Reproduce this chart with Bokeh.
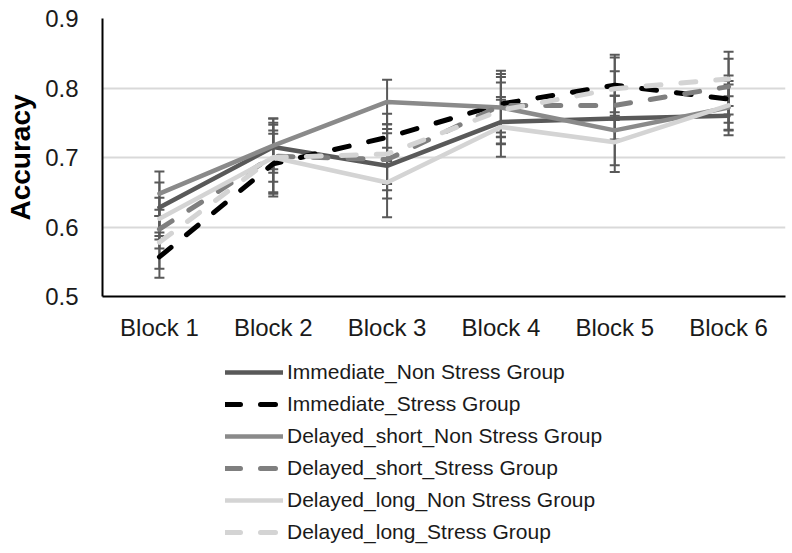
from bokeh.plotting import figure
from bokeh.layouts import column
from bokeh.models import ColumnDataSource, Whisker, Legend, LegendItem, TeeHead, FactorRange
from bokeh.embed import file_html
from bokeh.resources import INLINE

blocks = ["Block 1", "Block 2", "Block 3", "Block 4", "Block 5", "Block 6"]

series_names = [
    "Immediate_Non Stress Group",
    "Immediate_Stress Group",
    "Delayed_short_Non Stress Group",
    "Delayed_short_Stress Group",
    "Delayed_long_Non Stress Group",
    "Delayed_long_Stress Group",
]

immediate_non = [0.628, 0.715, 0.688, 0.751, 0.756, 0.760]
immediate_stress = [0.557, 0.691, 0.729, 0.777, 0.804, 0.784]
delayed_short_non = [0.648, 0.717, 0.780, 0.772, 0.739, 0.772]
delayed_short_stress = [0.597, 0.702, 0.697, 0.775, 0.775, 0.802]
delayed_long_non = [0.612, 0.700, 0.664, 0.744, 0.722, 0.775]
delayed_long_stress = [0.578, 0.700, 0.705, 0.768, 0.799, 0.813]

err_immediate_non = [0.036, 0.032, 0.047, 0.032, 0.033, 0.028]
err_immediate_stress = [0.030, 0.043, 0.034, 0.048, 0.044, 0.034]
err_delayed_short_non = [0.032, 0.039, 0.032, 0.036, 0.050, 0.033]
err_delayed_short_stress = [0.028, 0.037, 0.044, 0.045, 0.049, 0.040]
err_delayed_long_non = [0.030, 0.050, 0.050, 0.043, 0.043, 0.035]
err_delayed_long_stress = [0.038, 0.056, 0.043, 0.048, 0.045, 0.039]

y_ticks = [0.5, 0.6, 0.7, 0.8, 0.9]

values = [immediate_non, immediate_stress, delayed_short_non,
          delayed_short_stress, delayed_long_non, delayed_long_stress]
errors = [err_immediate_non, err_immediate_stress, err_delayed_short_non,
          err_delayed_short_stress, err_delayed_long_non, err_delayed_long_stress]
colors = ["#595959", "#000000", "#8a8a8a", "#7f7f7f", "#d4d4d4", "#d4d4d4"]
dashes = ["solid", "15 20", "solid", "15 20", "solid", "15 20"]
widths = [4.5, 5, 4.5, 5, 4.5, 5]

FONT = "Liberation Sans"

# ---- main chart ----
p = figure(width=788, height=346, x_range=FactorRange(*blocks, range_padding=0),
           y_range=(0.5, 0.9), output_backend="svg", toolbar_location=None,
           min_border_left=102, min_border_right=3, min_border_top=18,
           min_border_bottom=50)
p.outline_line_color = None
p.background_fill_color = "white"
p.border_fill_color = "white"

p.xgrid.grid_line_color = None
p.ygrid.grid_line_color = "#d9d9d9"
p.ygrid.grid_line_width = 2
p.yaxis.ticker = y_ticks

for ax in (p.xaxis[0], p.yaxis[0]):
    ax.axis_line_color = "black"
    ax.axis_line_width = 2
    ax.major_tick_line_color = None
    ax.minor_tick_line_color = None
    ax.major_tick_out = 0
    ax.major_tick_in = 0
    ax.major_label_text_font = FONT
    ax.major_label_text_font_size = "24px"
    ax.major_label_text_color = "#1a1a1a"

p.xaxis.major_label_standoff = 17
p.yaxis.major_label_standoff = 24
p.yaxis.axis_label = "Accuracy"
p.yaxis.axis_label_text_font = FONT
p.yaxis.axis_label_text_font_size = "28px"
p.yaxis.axis_label_text_font_style = "bold"
p.yaxis.axis_label_text_color = "#000000"
p.yaxis.axis_label_standoff = 6

for vals, col, dash, lw in zip(values, colors, dashes, widths):
    p.line(x=blocks, y=vals, line_color=col, line_width=lw, line_dash=dash,
           line_cap="round", line_join="round")

for vals, errs in zip(values, errors):
    src = ColumnDataSource(dict(x=blocks,
                                upper=[v + e for v, e in zip(vals, errs)],
                                lower=[v - e for v, e in zip(vals, errs)]))
    w = Whisker(base="x", upper="upper", lower="lower", source=src,
                line_color="#595959", line_width=2,
                upper_head=TeeHead(size=10, line_color="#595959", line_width=2),
                lower_head=TeeHead(size=10, line_color="#595959", line_width=2))
    p.add_layout(w)

# ---- legend panel (same series, legend only) ----
p2 = figure(width=788, height=199, x_range=FactorRange(*blocks), y_range=(0, 1),
            output_backend="svg", toolbar_location=None,
            x_axis_location=None, y_axis_location=None,
            min_border_left=0, min_border_right=0, min_border_top=0,
            min_border_bottom=0)
p2.outline_line_color = None
p2.xgrid.grid_line_color = None
p2.ygrid.grid_line_color = None

items = []
for name, vals, col, dash, lw in zip(series_names, values, colors, dashes, widths):
    r = p2.line(x=blocks, y=vals, line_color=col, line_width=lw, line_dash=dash,
                line_cap="round", line_join="round", visible=False)
    items.append(LegendItem(label=name, renderers=[r]))

legend = Legend(items=items, location=(123, 1), orientation="vertical")
legend.label_text_font = FONT
legend.label_text_font_size = "21px"
legend.label_text_color = "#1a1a1a"
legend.glyph_width = 58
legend.glyph_height = 20
legend.label_height = 20
legend.spacing = 8
legend.padding = 0
legend.margin = 0
legend.label_standoff = 4
legend.border_line_color = None
legend.background_fill_alpha = 0
p2.add_layout(legend, "center")

layout = column(p, p2, spacing=0)
open("out.html", "w").write(file_html(layout, INLINE))
